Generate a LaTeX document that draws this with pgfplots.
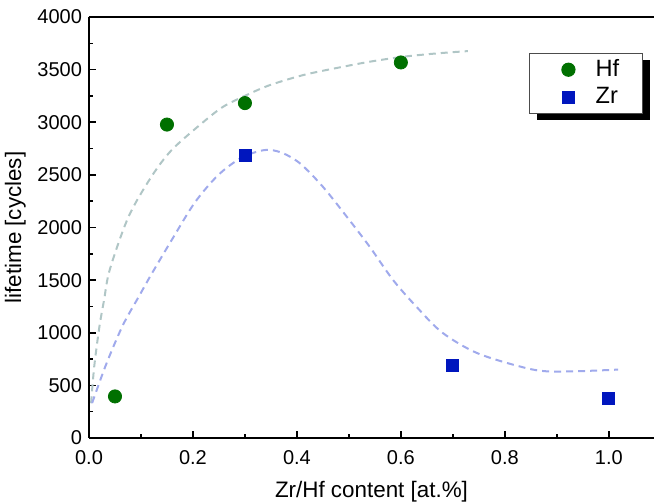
\documentclass[border=0pt]{standalone}
\usepackage{fontspec}
\setmainfont{Liberation Sans}
\usepackage{pgfplots}
\pgfplotsset{compat=1.18}
\usetikzlibrary{shadows}
\definecolor{hfgreen}{RGB}{0,112,0}
\definecolor{zrblue}{RGB}{0,22,190}
\definecolor{hffit}{RGB}{176,198,198}
\definecolor{zrfit}{RGB}{160,170,236}
\pgfplotsset{wideimg/.style={legend image code/.code={\path (0cm,0cm) (0.95cm,0cm); \draw[##1] plot coordinates {(0.55cm,0cm)};}}}

\begin{document}
\begin{tikzpicture}
\useasboundingbox (-44.5pt,-32pt) rectangle (282.5pt,219pt);
\begin{axis}[
  at={(0,0)}, anchor=south west,
  scale only axis,
  width=282.5pt, height=210.5pt,
  xmin=0, xmax=1.087, ymin=0, ymax=4000,
  axis x line=box, axis y line=left,
  axis line style={-, line width=0.9pt},
  xtick={0,0.2,...,1.0}, ytick={0,500,...,4000},
  minor x tick num=1, minor y tick num=1,
  xtick pos=bottom, ytick pos=left,
  tick align=inside,
  major tick length=3.5pt, minor tick length=2pt,
  tick style={line width=0.8pt, black},
  xticklabel style={yshift=-2.5pt, /pgf/number format/.cd, fixed, fixed zerofill, precision=1},
  yticklabel style={/pgf/number format/.cd, 1000 sep={}},
  /pgf/number format/assume math mode=true,
  tick label style={font=\fontsize{10}{11}\selectfont},
  label style={font=\fontsize{11.2}{13}\selectfont},
  xlabel={Zr/Hf content [at.\%]},
  ylabel={lifetime [cycles]},
  xlabel style={at={(axis description cs:0.5,0)}, yshift=-18pt, anchor=north},
  ylabel style={yshift=-1pt},
  legend style={at={(rel axis cs:0.779,0.915)}, anchor=north west,
    draw=black!70, line width=0.5pt, fill=white,
    drop shadow={shadow xshift=3.5pt, shadow yshift=-3.5pt, fill=black, opacity=1},
    font=\fontsize{11.8}{13}\selectfont,
    inner xsep=3.5pt, inner ysep=1.2pt, row sep=0pt,
    legend cell align=left},
]
% fitted trend curves
\addplot[hffit, dash pattern=on 3.5pt off 2.5pt, line width=1pt, smooth, forget plot] coordinates {
  (0.004,330) (0.010,677) (0.020,1057) (0.029,1311) (0.040,1600) (0.076,2102)
  (0.120,2482) (0.159,2736) (0.217,2990) (0.258,3147) (0.303,3258) (0.348,3353)
  (0.412,3448) (0.476,3515) (0.540,3575) (0.604,3622) (0.669,3654) (0.729,3676)
};
\addplot[zrfit, dash pattern=on 3.5pt off 2.5pt, line width=1pt, smooth, forget plot] coordinates {
  (0.006,332) (0.033,700) (0.065,1070) (0.096,1345) (0.120,1555) (0.159,1880)
  (0.204,2240) (0.249,2500) (0.294,2665) (0.338,2736) (0.370,2712) (0.406,2609)
  (0.450,2387) (0.496,2102) (0.540,1817) (0.585,1501) (0.630,1247) (0.680,1000)
  (0.750,800) (0.854,650) (0.919,632) (1.018,650)
};
% measured lifetimes
\addplot[only marks, wideimg, mark=*, mark size=3.3pt, color=hfgreen, fill=hfgreen] coordinates {
  (0.05,395) (0.15,2978) (0.30,3182) (0.60,3568)
};
\addlegendentry{\makebox[18pt][l]{Hf}}
\addplot[only marks, wideimg, mark=square*, mark size=3pt, color=zrblue, fill=zrblue] coordinates {
  (0.30,2688) (0.70,690) (1.00,375)
};
\addlegendentry{\makebox[18pt][l]{Zr}}
\end{axis}
\end{tikzpicture}
\end{document}
